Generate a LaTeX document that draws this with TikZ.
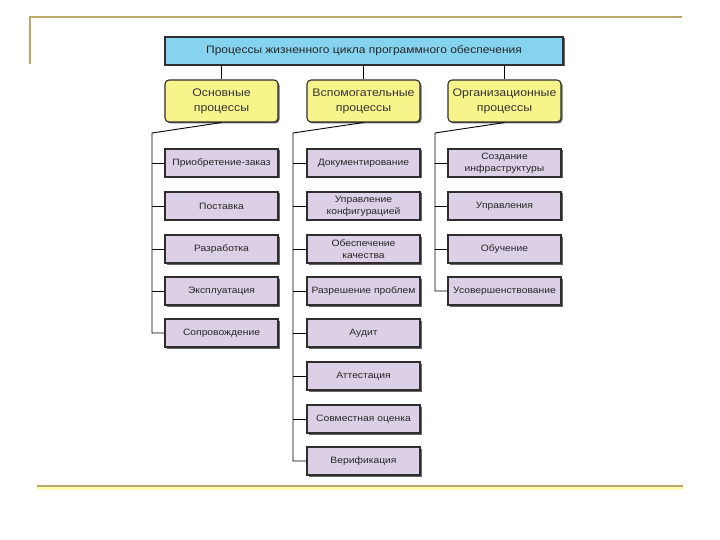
\documentclass[tikz,border=0pt]{standalone}
\usepackage{fontspec}
\setmainfont[FakeStretch=1.12]{Liberation Sans}
\usetikzlibrary{shadows}
\definecolor{lav}{HTML}{DCD0E6}
\definecolor{ylw}{HTML}{F8F48C}
\definecolor{cyanbox}{HTML}{86D3F0}
\definecolor{frame}{HTML}{B8A86A}
\definecolor{edge}{HTML}{2E2E2E}
\tikzset{
  boxshadow/.style={drop shadow={shadow xshift=1.5pt, shadow yshift=-1.5pt, fill=black!60, opacity=1}},
  procbox/.style={draw=edge, line width=1.2pt, fill=lav, minimum width=113pt, minimum height=28pt,
    text width=110pt, align=center, inner sep=1pt, font=\fontsize{9.2}{12}\selectfont, text=black!85, boxshadow},
  groupbox/.style={draw=edge, line width=1.1pt, fill=ylw, rounded corners=4pt, minimum width=113pt,
    minimum height=42pt, text width=110pt, align=center, inner sep=1pt, font=\fontsize{11}{15}\selectfont, text=black!80, boxshadow},
  titlebox/.style={draw=edge, line width=1.1pt, fill=cyanbox, minimum width=398pt, minimum height=28pt,
    inner sep=1pt, font=\fontsize{10.7}{12}\selectfont, text=black!85, boxshadow},
  conn/.style={draw=black, line width=0.9pt},
  frameline/.style={draw=frame, line width=2pt}
}
\begin{document}
\begin{tikzpicture}[x=1pt,y=-1pt]
\useasboundingbox (0,0) rectangle (720,540);
% frame
\draw[frameline] (30,64) -- (30,17) -- (682,17);
\draw[draw=yellow!30, line width=5pt] (37,487) -- (683,487);
\draw[frameline, line width=2.5pt] (37,486) -- (683,486);

\node[titlebox] (title) at (364,51) {Процессы жизненного цикла программного обеспечения};

\node[groupbox] (g1) at (221.5,101) {Основные\\процессы};
\node[groupbox] (g2) at (363.5,101) {Вспомогательные\\процессы};
\node[groupbox] (g3) at (504.5,101) {Организационные\\процессы};

\foreach \g in {g1,g2,g3} \draw[conn] (title.south -| \g.north) -- (\g.north);

% left column
\node[procbox] (l1) at (221.5,163) {Приобретение-заказ};
\node[procbox] (l2) at (221.5,206) {Поставка};
\node[procbox] (l3) at (221.5,249) {Разработка};
\node[procbox] (l4) at (221.5,291) {Эксплуатация};
\node[procbox] (l5) at (221.5,333) {Сопровождение};

% middle column
\node[procbox] (m1) at (363.5,163) {Документирование};
\node[procbox] (m2) at (363.5,206) {Управление\\конфигурацией};
\node[procbox] (m3) at (363.5,249) {Обеспечение\\качества};
\node[procbox] (m4) at (363.5,291) {Разрешение проблем};
\node[procbox] (m5) at (363.5,333) {Аудит};
\node[procbox] (m6) at (363.5,376) {Аттестация};
\node[procbox] (m7) at (363.5,419) {Совместная оценка};
\node[procbox] (m8) at (363.5,461) {Верификация};

% right column
\node[procbox] (r1) at (504.5,163) {Создание\\инфраструктуры};
\node[procbox] (r2) at (504.5,206) {Управления};
\node[procbox] (r3) at (504.5,249) {Обучение};
\node[procbox] (r4) at (504.5,291) {Усовершенствование};

% buses
\coordinate (lb) at (152,133);
\coordinate (mb) at (293,133);
\coordinate (rb) at (435,133);

\draw[conn] (g1.south) -- (lb) -- (lb |- l5.west) -- (l5.west);
\foreach \n in {l1,l2,l3,l4} \draw[conn] (lb |- \n.west) -- (\n.west);

\draw[conn] (g2.south) -- (mb) -- (mb |- m8.west) -- (m8.west);
\foreach \n in {m1,m2,m3,m4,m5,m6,m7} \draw[conn] (mb |- \n.west) -- (\n.west);

\draw[conn] (g3.south) -- (rb) -- (rb |- r4.west) -- (r4.west);
\foreach \n in {r1,r2,r3} \draw[conn] (rb |- \n.west) -- (\n.west);
\end{tikzpicture}
\end{document}
